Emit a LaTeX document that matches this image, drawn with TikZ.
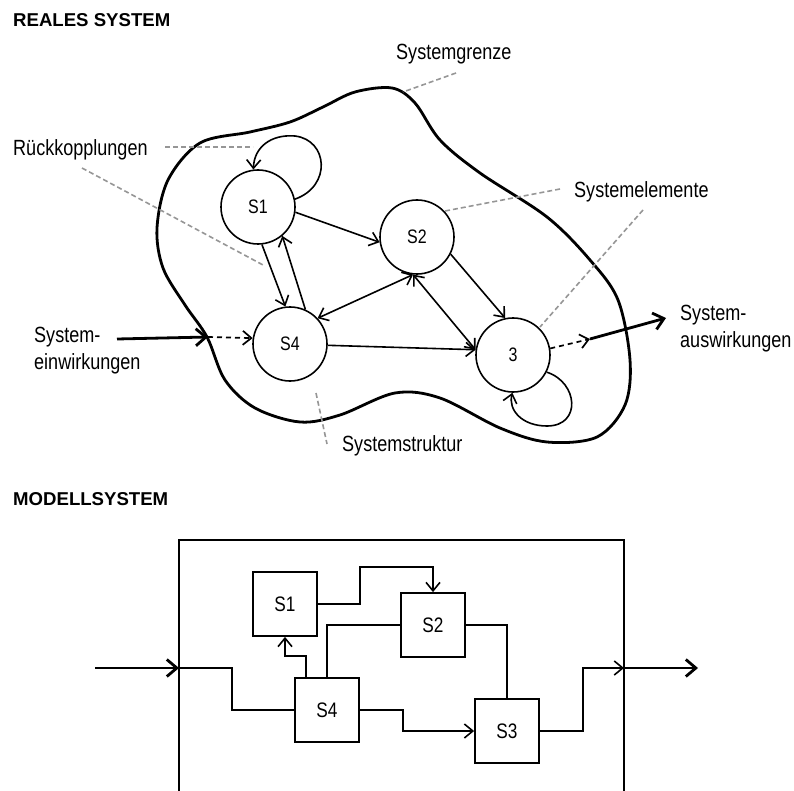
\documentclass[tikz,border=0pt]{standalone}
\usepackage{fontspec}
\setmainfont{Liberation Sans}
\newfontfamily\nar[FakeStretch=0.82]{Liberation Sans}
\usetikzlibrary{arrows.meta,calc}
\definecolor{leader}{RGB}{150,150,150}
\begin{document}
\begin{tikzpicture}[x=1pt,y=-1pt,
  title/.style={anchor=base west,inner sep=0,font=\bfseries\fontsize{18.6}{22}\selectfont},
  lbl/.style={inner sep=0,font=\nar\fontsize{22}{27}\selectfont,align=left},
  elem/.style={circle,draw,line width=1.6pt,minimum size=74pt,inner sep=0,font=\nar\fontsize{19.5}{22}\selectfont},
  blk/.style={rectangle,draw,line width=1.8pt,minimum size=64pt,inner sep=0,font=\nar\fontsize{21}{24}\selectfont},
  tip/.tip={Straight Barb[length=8.5pt,width=14pt]},
  flow/.style={line width=1.6pt,-tip},
  flowboth/.style={line width=1.6pt,tip-tip},
  wire/.style={line width=1.6pt},
  dflow/.style={line width=1.7pt,dash pattern=on 5pt off 4pt,-tip},
  bigflow/.style={line width=2.8pt,-{Straight Barb[length=10pt,width=17pt]}},
  lead/.style={draw=leader,line width=1.6pt,dash pattern=on 5pt off 3pt},
  boundary/.style={line width=2.8pt}]
\useasboundingbox (0,0) rectangle (794,791);

% ---------- real system ----------
\node[title] (t1) at (13,27) {REALES SYSTEM};

% system boundary
\draw[boundary] plot[smooth cycle,tension=0.55] coordinates {
  (392,88) (415,103) (440,140) (480,173) (547,217) (590,260) (618,300)
  (630,360) (625,405) (597,437) (547,442) (500,428) (440,398) (395,393)
  (340,415) (300,422) (255,408) (225,380) (207,337) (185,305) (163,268)
  (157,228) (168,180) (200,143) (250,132) (290,122) (323,107) (355,92)};

% elements
\node[elem] (c1) at (258,207) {S1};
\node[elem] (c2) at (417,237) {S2};
\node[elem] (c4) at (290,344) {S4};
\node[elem] (c3) at (513,355) {3};

% structure
\draw[flow] (c1.-8) -- (c2.188);
\draw[flow] (c1.-84) -- (c4.97);
\draw[flow] (c4.66) -- (c1.-50);
\draw[flowboth] (c2.-96) -- (c4.43);
\draw[flow] (c2.-27) -- (c3.102);
\draw[flowboth] (c2.-96) -- (c3.172);
\draw[flow] (c4.-2) -- (c3.172);

% feedback loops
\draw[flow] (c1.12) .. controls (332,186) and (328,140) .. (295,136)
  .. controls (270,134) and (254,148) .. (c1.97);
\draw[flow] (c3.-27) .. controls (578,382) and (582,426) .. (547,426)
  .. controls (522,426) and (508,410) .. (c3.-91);

% inputs and outputs
\coordinate (inL) at (117,339);
\coordinate (inB) at (208,337);
\coordinate (outB) at (590,339);
\coordinate (outR) at (666,318);
\draw[bigflow] (inL) -- (inB);
\draw[dflow] (inB) -- (c4.171);
\draw[dflow] (c3.10) -- (outB);
\draw[bigflow] (outB) -- (outR);

% labels
\node[lbl,anchor=base west] (lgr) at (396,60) {Systemgrenze};
\node[lbl,anchor=base west] (lrk) at (13,156) {Rückkopplungen};
\node[lbl,anchor=base west] (lel) at (574,198) {Systemelemente};
\node[lbl,anchor=base west] (lst) at (342,451) {Systemstruktur};
\node[lbl,anchor=north west] (lein) at (34,326.5) {System-\\einwirkungen};
\node[lbl,anchor=north west] (laus) at (680,305) {System-\\auswirkungen};

% leader lines
\draw[lead] (456,73) -- (403,92);
\draw[lead] (165,147) -- (253,147);
\draw[lead] (82,168) -- (263,265);
\draw[lead] (560,189) -- (445,211);
\draw[lead] (643,210) -- (540,327);
\draw[lead] (316,393) -- (327,444);

% ---------- model system ----------
\node[title] (t2) at (13,505) {MODELLSYSTEM};
\draw[line width=2.6pt] (179,800) -- (179,540) -- (624,540) -- (624,800);

\node[blk] (b1) at (285,604) {S1};
\node[blk] (b2) at (433,625) {S2};
\node[blk] (b4) at (327,710) {S4};
\node[blk] (b3) at (507,731) {S3};

\coordinate (mIn) at (95,668);
\coordinate (mL) at (179,668);
\coordinate (mR) at (624,668);
\coordinate (mOut) at (698,668);

\draw[bigflow] (mIn) -- (mL);
\draw[wire] (mL) -- ++(53,0) |- (b4.west);
\draw[flow] ($(b4.north)+(-21,0)$) -- ++(0,-21) -| (b1.south);
\draw[wire] (b4.north) |- (b2.west);
\draw[flow] (b1.east) -- ++(42,0) |- ($(b2.north)+(0,-25)$) -- (b2.north);
\draw[wire] (b2.east) -| (b3.north);
\draw[flow] (b4.east) -- ++(43,0) |- (b3.west);
\draw[flow] (b3.east) -- ++(43,0) |- (mR);
\draw[bigflow] (mR) -- (mOut);
\end{tikzpicture}
\end{document}
